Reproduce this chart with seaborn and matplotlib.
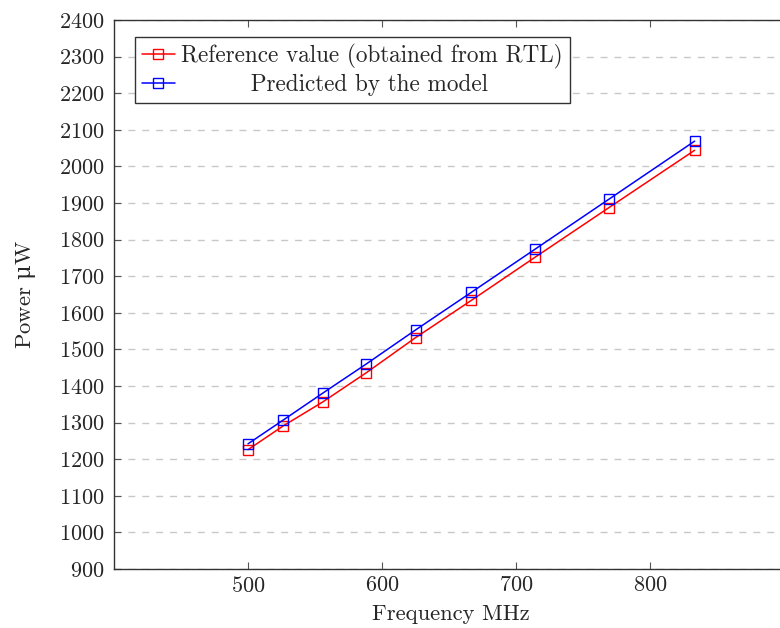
import pandas as pd
import matplotlib.pyplot as plt
import seaborn as sns

# Adatok
freq_mhz = [500, 526.3, 555.6, 588.2, 625, 666.7, 714.3, 769.2, 833.3]
power_rtl = [1226, 1291, 1356, 1436, 1532, 1634, 1752, 1887, 2044]
power_model = [1242, 1307, 1380, 1460, 1553, 1656, 1774, 1910, 2069]
label_rtl = "Reference value (obtained from RTL)"
label_model = "Predicted by the model"
y_ticks = list(range(900, 2401, 100))
x_ticks = [500, 600, 700, 800]

df = pd.DataFrame({"Frequency": freq_mhz, "RTL": power_rtl, "Model": power_model})

sns.set_theme(style="ticks")
plt.rcParams.update({
    "font.family": ["cmr10", "DejaVu Serif"],
    "axes.formatter.use_mathtext": True,
    "mathtext.fontset": "custom",
    "mathtext.rm": "DejaVu Serif",
    "font.size": 15,
    "axes.edgecolor": "#333333",
    "axes.linewidth": 1.0,
})

fig = plt.figure(figsize=(7.8, 6.28), dpi=100)
W, H = 780, 628
ax_left, ax_top, ax_bottom = 114, 20, 569
ax_w_px = W - ax_left + 8
ax = fig.add_axes([ax_left / W, (H - ax_bottom) / H, ax_w_px / W, (ax_bottom - ax_top) / H])

sns.lineplot(data=df, x="Frequency", y="RTL", ax=ax, color="red", marker="s",
             markersize=7, markerfacecolor="none", markeredgecolor="red",
             markeredgewidth=1.0, linewidth=1.1, label=label_rtl)
sns.lineplot(data=df, x="Frequency", y="Model", ax=ax, color="blue", marker="s",
             markersize=7, markerfacecolor="none", markeredgecolor="blue",
             markeredgewidth=1.0, linewidth=1.1, label=label_model)

ax.set_xlim(400, 400 + ax_w_px / 1.34)
ax.set_ylim(900, 2400)
ax.set_xticks(x_ticks)
ax.set_yticks(y_ticks)
ax.tick_params(direction="in", length=5, width=0.8, labelsize=16, color="#555555",
               top=True, right=True)
ax.tick_params(axis="y", pad=7)
ax.tick_params(axis="x", pad=5)
ax.yaxis.grid(True, linestyle=(0, (5, 5)), color="#c8c8c8", linewidth=1.0)
ax.xaxis.grid(False)

ax.set_xlabel("Frequency MHz", fontsize=16.3, labelpad=6)
ax.set_ylabel(r"Power $\mathrm{\mu}$W", fontsize=16.3, labelpad=15)

handles, labels = ax.get_legend_handles_labels()
labels = [label_rtl, "         " + label_model]
leg = ax.legend(handles, labels, loc="upper left",
                bbox_to_anchor=((135 - ax_left) / ax_w_px, 1 - (37 - ax_top) / (ax_bottom - ax_top)),
                borderaxespad=0, fancybox=False, framealpha=1, edgecolor="#333333",
                fontsize=16.7, handlelength=1.42, handletextpad=0.26, borderpad=0.3,
                labelspacing=0.22, numpoints=1)
leg.get_frame().set_linewidth(1.0)

fig.savefig("out.png", dpi=100)
plt.close()
